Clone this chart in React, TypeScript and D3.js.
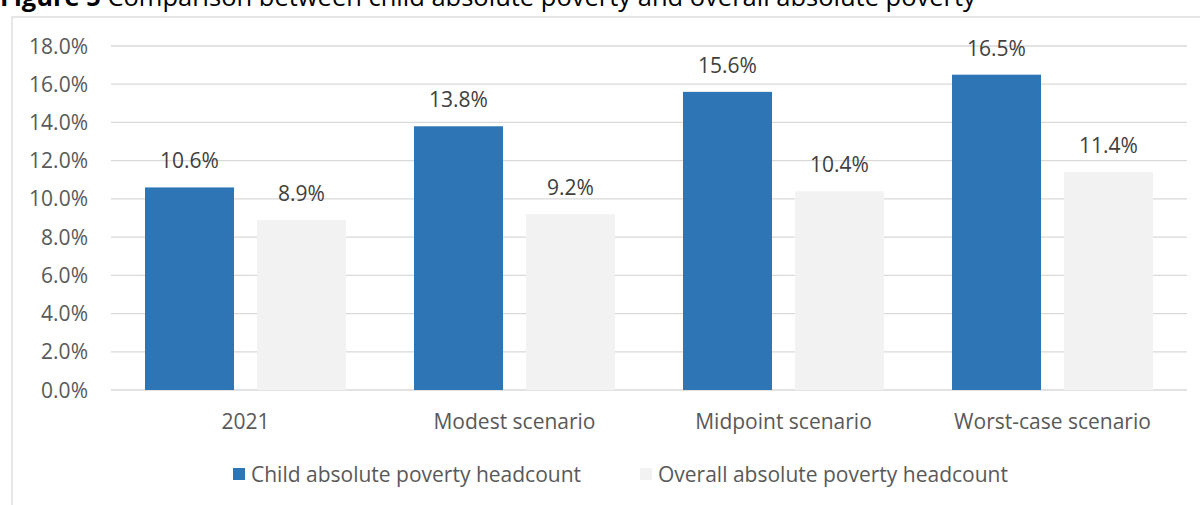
import React from "react";
import * as d3 from "d3";

const categories = ["2021", "Modest scenario", "Midpoint scenario", "Worst-case scenario"];
const seriesNames = ["Child absolute poverty headcount", "Overall absolute poverty headcount"];
const childValues = [10.6, 13.8, 15.6, 16.5];
const overallValues = [8.9, 9.2, 10.4, 11.4];
const yTicks = [0, 2, 4, 6, 8, 10, 12, 14, 16, 18];
const titleBold = "Figure 5";
const titleRest = " Comparison between child absolute poverty and overall absolute poverty";

const W = 1200;
const H = 505;
const colors = ["#2E75B6", "#F2F2F2"];
const textColor = "#595959";
const gridColor = "#D9D9D9";
const font = "'Open Sans', sans-serif";
const fs = 21;

export default function App() {
  const plotLeft = 111;
  const plotRight = 1187;
  const y = d3.scaleLinear().domain([0, 18]).range([390, 46]);
  const x0 = d3.scaleBand<string>().domain(categories).range([plotLeft, plotRight]).paddingInner(0).paddingOuter(0);
  const bw = 89;
  const gap = 23;
  const side = (x0.bandwidth() - 2 * bw - gap) / 2;
  const series = [childValues, overallValues];
  const fmt = (v: number) => v.toFixed(1) + "%";

  return (
    <svg width={W} height={H} style={{ position: "absolute", left: 0, top: 0 }} fontFamily={font}>
      <rect x={0} y={0} width={W} height={H} fill="#fff" />
      <text x={0} y={6} fontSize={25.5} fill="#000" fontFamily="'Open Sans', sans-serif">
        <tspan fontWeight="bold">{titleBold}</tspan>
        <tspan>{titleRest}</tspan>
      </text>
      <rect x={12} y={17} width={1250} height={600} fill="#fff" stroke={gridColor} strokeWidth={1.3} />
      {yTicks.map((t) => (
        <g key={t}>
          <line x1={plotLeft} x2={plotRight} y1={y(t)} y2={y(t)} stroke={gridColor} strokeWidth={1.3} />
          <text x={88} y={y(t) + 7.5} textAnchor="end" fontSize={fs} fill={textColor}>
            {fmt(t)}
          </text>
        </g>
      ))}
      {categories.map((c, i) => (
        <g key={c}>
          {series.map((vals, s) => {
            const bx = (x0(c) as number) + side + s * (bw + gap);
            return (
              <g key={s}>
                <rect x={bx} y={y(vals[i])} width={bw} height={y(0) - y(vals[i])} fill={colors[s]} />
                <text x={bx + bw / 2} y={y(vals[i]) - 19} textAnchor="middle" fontSize={fs} fill="#404040">
                  {fmt(vals[i])}
                </text>
              </g>
            );
          })}
          <text x={(x0(c) as number) + x0.bandwidth() / 2} y={429} textAnchor="middle" fontSize={fs} fill={textColor}>
            {c}
          </text>
        </g>
      ))}
      {seriesNames.map((n, s) => {
        const lx = s === 0 ? 233 : 640;
        return (
          <g key={n}>
            <rect x={lx} y={468} width={12} height={12} fill={colors[s]} />
            <text x={lx + 18} y={481.5} fontSize={fs} fill={textColor}>
              {n}
            </text>
          </g>
        );
      })}
    </svg>
  );
}
